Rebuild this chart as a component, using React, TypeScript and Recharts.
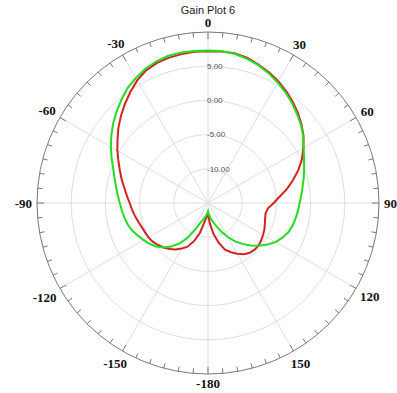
import { RadarChart, Radar, PolarGrid, PolarAngleAxis, PolarRadiusAxis } from "recharts";

// angle categories, clockwise from the top (0) round to -5
const ANGLES = [
  0, 5, 10, 15, 20, 25, 30, 35, 40, 45, 50, 55, 60, 65, 70, 75, 80, 85,
  90, 95, 100, 105, 110, 115, 120, 125, 130, 135, 140, 145, 150, 155, 160, 165, 170, 175,
  -180, -175, -170, -165, -160, -155, -150, -145, -140, -135, -130, -125, -120, -115, -110, -105, -100, -95,
  -90, -85, -80, -75, -70, -65, -60, -55, -50, -45, -40, -35, -30, -25, -20, -15, -10, -5,
];

// gain in dB, same order as ANGLES
const GREEN = [
  7.3, 7.3, 7.15, 6.85, 6.45, 5.95, 5.35, 4.75, 4.1, 3.4, 2.75, 2.0, 1.15, 0.5, -0.05, -0.5, -0.95, -1.3,
  -1.6, -1.8, -2.0, -2.2, -2.5, -3.0, -3.6, -4.4, -5.3, -6.2, -7.2, -8.2, -9.3, -10.4, -11.4, -12.1, -12.7, -13.3,
  -13.8, -13.4, -13.0, -12.6, -12.1, -10.9, -9.2, -7.8, -6.7, -5.8, -5.1, -4.6, -4.15, -3.7, -3.2, -2.85, -2.6, -2.35,
  -2.1, -1.75, -1.35, -0.85, -0.25, 0.55, 1.4, 2.25, 3.1, 3.9, 4.7, 5.5, 6.1, 6.65, 7.05, 7.3, 7.35, 7.3,
];

const RED = [
  7.2, 7.25, 7.25, 7.0, 6.55, 6.1, 5.55, 4.95, 4.3, 3.6, 2.85, 2.05, 1.1, 0.15, -0.95, -2.15, -3.3, -4.5,
  -5.4, -6.2, -6.45, -6.35, -6.15, -5.9, -5.7, -5.5, -5.35, -5.35, -5.5, -5.85, -6.45, -7.05, -7.75, -9.0, -10.45, -12.0,
  -13.5, -13.0, -12.3, -10.5, -9.1, -7.95, -7.3, -6.7, -6.2, -5.8, -5.45, -5.15, -4.95, -4.85, -4.7, -4.45, -4.15, -3.85,
  -3.55, -3.1, -2.6, -1.95, -1.3, -0.55, 0.3, 1.15, 2.1, 3.0, 3.9, 4.8, 5.7, 6.4, 6.8, 7.0, 7.1, 7.2,
];

const RADIUS_TICKS = [-10, -5, 0, 5];
const RADIUS_DOMAIN = [-15, 10];
const SPOKES = [0, 30, 60, 90, 120, 150, 180, 210, 240, 270, 300, 330];

const rows = ANGLES.map((angle, i) => ({ angle, green: GREEN[i], red: RED[i] }));

const W = 397;
const H = 393;
const CX = 208;
const CY = 203;
const R = 171;

function AngleTick(props: any) {
  const { x, y, payload } = props;
  const a = Math.atan2(CY - y, x - CX);
  const cos = Math.cos(a);
  const sin = Math.sin(a);
  const major = payload.value % 30 === 0;
  const len = major ? 7 : 5;
  // push the label out so its box clears the circle
  const label = String(payload.value);
  const digits = label.replace("-", "").length;
  const halfW = (digits * 6.5 + (label.startsWith("-") ? 4.3 : 0)) / 2;
  const rl = R + 5 + Math.abs(cos) * halfW + Math.abs(sin) * 4.5;
  return (
    <g>
      <line
        x1={CX + R * cos}
        y1={CY - R * sin}
        x2={CX + (R - len) * cos}
        y2={CY - (R - len) * sin}
        stroke="#777"
        strokeWidth={1}
      />
      {major && (
        <text
          x={CX + rl * cos}
          y={CY - rl * sin}
          textAnchor="middle"
          dominantBaseline="central"
          fontFamily="'Liberation Serif', 'Times New Roman', serif"
          fontWeight="bold"
          fontSize={13}
          fill="#111"
        >
          {label}
        </text>
      )}
    </g>
  );
}

function RadiusTick(props: any) {
  const { x, y, payload } = props;
  return (
    <text
      x={x - 1}
      y={y}
      dy="0.35em"
      textAnchor="start"
      fontFamily="'Liberation Sans', Arial, sans-serif"
      fontSize={8}
      fill="#555"
    >
      {Number(payload.value).toFixed(2)}
    </text>
  );
}

export default function App() {
  return (
    <div style={{ position: "absolute", left: 0, top: 0, width: W, height: H, background: "#fff" }}>
      <div
        style={{
          position: "absolute",
          left: 0,
          top: 5,
          width: CX * 2,
          textAlign: "center",
          fontFamily: "'Liberation Sans', Arial, sans-serif",
          fontSize: 11,
          lineHeight: "11px",
          color: "#222",
        }}
      >
        Gain Plot 6
      </div>
      <RadarChart
        width={W}
        height={H}
        cx={CX}
        cy={CY}
        outerRadius={R}
        data={rows}
        startAngle={90}
        endAngle={-270}
        margin={{ top: 0, right: 0, bottom: 0, left: 0 }}
      >
        <PolarGrid gridType="circle" polarAngles={SPOKES} stroke="#dedede" />
        <PolarAngleAxis
          dataKey="angle"
          axisLineType="circle"
          stroke="#777"
          tickLine={false}
          tick={AngleTick}
        />
        <PolarRadiusAxis
          angle={90}
          type="number"
          domain={RADIUS_DOMAIN}
          ticks={RADIUS_TICKS}
          axisLine={false}
          tickLine={false}
          tick={RadiusTick}
        />
        <Radar
          dataKey="red"
          stroke="#d42222"
          strokeWidth={2}
          fill="none"
          fillOpacity={0}
          dot={false}
          isAnimationActive={false}
        />
        <Radar
          dataKey="green"
          stroke="#22dd22"
          strokeWidth={2}
          fill="none"
          fillOpacity={0}
          dot={false}
          isAnimationActive={false}
        />
      </RadarChart>
    </div>
  );
}
